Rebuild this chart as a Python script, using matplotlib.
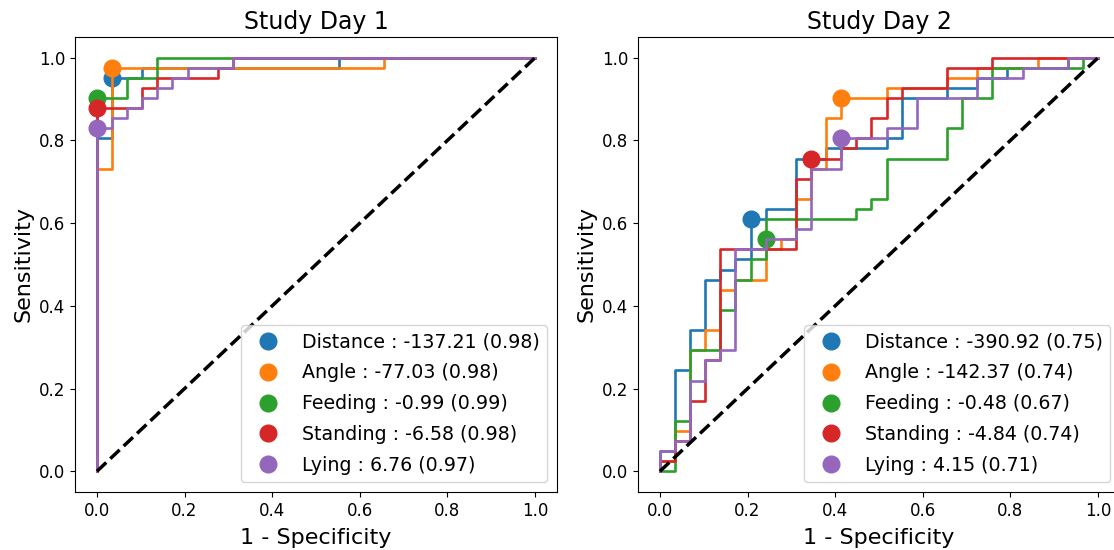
import numpy as np
import matplotlib
matplotlib.use('Agg')
import matplotlib.pyplot as plt

# number of negatives / positives (step sizes)
N_NEG = 29
N_POS = 41

names = ['Distance', 'Angle', 'Feeding', 'Standing', 'Lying']
colors = ['tab:blue', 'tab:orange', 'tab:green', 'tab:red', 'tab:purple']

# ---- Study Day 1 : ROC corners as (false positive count, true positive count)
d1_distance_fp = [0, 0, 1, 1, 3, 3, 16, 16, 29]
d1_distance_tp = [0, 33, 33, 39, 39, 40, 40, 41, 41]
d1_angle_fp = [0, 0, 1, 1, 19, 19, 29]
d1_angle_tp = [0, 30, 30, 40, 40, 41, 41]
d1_feeding_fp = [0, 0, 2, 2, 4, 4, 29]
d1_feeding_tp = [0, 37, 37, 39, 39, 41, 41]
d1_standing_fp = [0, 0, 3, 3, 4, 4, 8, 8, 9, 9, 29]
d1_standing_tp = [0, 36, 36, 38, 38, 39, 39, 40, 40, 41, 41]
d1_lying_fp = [0, 0, 1, 1, 2, 2, 3, 3, 4, 4, 5, 5, 6, 6, 9, 9, 29]
d1_lying_tp = [0, 34, 34, 35, 35, 36, 36, 37, 37, 38, 38, 39, 39, 40, 40, 41, 41]
# cut-off point of each feature
d1_cut_fp = [1, 1, 0, 0, 0]
d1_cut_tp = [39, 40, 37, 36, 34]
d1_thresholds = ['-137.21', '-77.03', '-0.99', '-6.58', '6.76']
d1_auc = ['0.98', '0.98', '0.99', '0.98', '0.97']

# ---- Study Day 2
d2_distance_fp = [0, 0, 1, 1, 2, 2, 3, 3, 4, 4, 5, 5, 6, 6, 7, 7, 9, 9, 11, 11,
                  15, 15, 16, 16, 19, 19, 21, 21, 23, 23, 27, 27, 29]
d2_distance_tp = [0, 2, 2, 10, 10, 14, 14, 19, 19, 20, 20, 21, 21, 25, 25, 26, 26, 31, 31, 32,
                  32, 33, 33, 37, 37, 38, 38, 39, 39, 40, 40, 41, 41]
d2_angle_fp = [0, 0, 1, 1, 2, 2, 3, 3, 4, 4, 5, 5, 7, 7, 8, 8, 9, 9, 10, 10,
               11, 11, 12, 12, 15, 15, 19, 19, 21, 21, 25, 25, 29]
d2_angle_tp = [0, 1, 1, 4, 4, 12, 12, 14, 14, 18, 18, 19, 19, 22, 22, 23, 23, 27, 27, 30,
               30, 35, 35, 37, 37, 38, 38, 39, 39, 40, 40, 41, 41]
d2_feeding_fp = [0, 1, 1, 2, 2, 4, 4, 5, 5, 6, 6, 7, 7, 13, 13, 14, 14, 15, 15, 19,
                 19, 20, 20, 22, 22, 28, 28, 29]
d2_feeding_tp = [0, 0, 5, 5, 12, 12, 16, 16, 19, 19, 21, 21, 25, 25, 26, 26, 27, 27, 31, 31,
                 34, 34, 37, 37, 40, 40, 41, 41]
d2_standing_fp = [0, 0, 1, 1, 2, 2, 3, 3, 4, 4, 9, 9, 10, 10, 12, 12, 13, 13, 14, 14,
                  15, 15, 16, 16, 19, 19, 22, 22, 29]
d2_standing_tp = [0, 1, 1, 3, 3, 7, 7, 11, 11, 22, 22, 29, 29, 31, 31, 32, 32, 33, 33, 35,
                  35, 37, 37, 38, 38, 40, 40, 41, 41]
d2_lying_fp = [0, 0, 1, 1, 2, 2, 3, 3, 4, 4, 5, 5, 7, 7, 9, 9, 10, 10, 12, 12,
               15, 15, 17, 17, 21, 21, 24, 24, 27, 27, 29]
d2_lying_tp = [0, 2, 2, 3, 3, 9, 9, 11, 11, 12, 12, 22, 22, 23, 23, 24, 24, 30, 30, 33,
               33, 34, 34, 37, 37, 39, 39, 40, 40, 41, 41]
d2_cut_fp = [6, 12, 7, 10, 12]
d2_cut_tp = [25, 37, 23, 31, 33]
d2_thresholds = ['-390.92', '-142.37', '-0.48', '-4.84', '4.15']
d2_auc = ['0.75', '0.74', '0.67', '0.74', '0.71']


def draw_day(ax, curves, cut_fp, cut_tp, thresholds, aucs, title):
    for i, (fp, tp) in enumerate(curves):
        fpr = np.array(fp) / N_NEG
        tpr = np.array(tp) / N_POS
        ax.plot(fpr, tpr, color=colors[i], lw=1.9)
        ax.plot(cut_fp[i] / N_NEG, cut_tp[i] / N_POS, 'o', color=colors[i], ms=12,
                label='%s : %s (%s)' % (names[i], thresholds[i], aucs[i]))
    ax.plot([0, 1], [0, 1], 'k--', lw=2.5)
    ax.set_title(title, fontsize=17)
    ax.set_xlabel('1 - Specificity', fontsize=16, labelpad=6)
    ax.set_ylabel('Sensitivity', fontsize=16)
    ax.tick_params(labelsize=12)
    ax.legend(loc='lower right', fontsize=13.7, labelspacing=0.62)


fig = plt.figure(figsize=(11.14, 5.5), dpi=100)
ax1 = fig.add_axes([75 / 1114, 58 / 550, 482 / 1114, 455 / 550])
ax2 = fig.add_axes([638 / 1114, 58 / 550, 482 / 1114, 455 / 550])

draw_day(ax1,
         [(d1_distance_fp, d1_distance_tp), (d1_angle_fp, d1_angle_tp),
          (d1_feeding_fp, d1_feeding_tp), (d1_standing_fp, d1_standing_tp),
          (d1_lying_fp, d1_lying_tp)],
         d1_cut_fp, d1_cut_tp, d1_thresholds, d1_auc, 'Study Day 1')
draw_day(ax2,
         [(d2_distance_fp, d2_distance_tp), (d2_angle_fp, d2_angle_tp),
          (d2_feeding_fp, d2_feeding_tp), (d2_standing_fp, d2_standing_tp),
          (d2_lying_fp, d2_lying_tp)],
         d2_cut_fp, d2_cut_tp, d2_thresholds, d2_auc, 'Study Day 2')

fig.savefig('out.png', dpi=100)
